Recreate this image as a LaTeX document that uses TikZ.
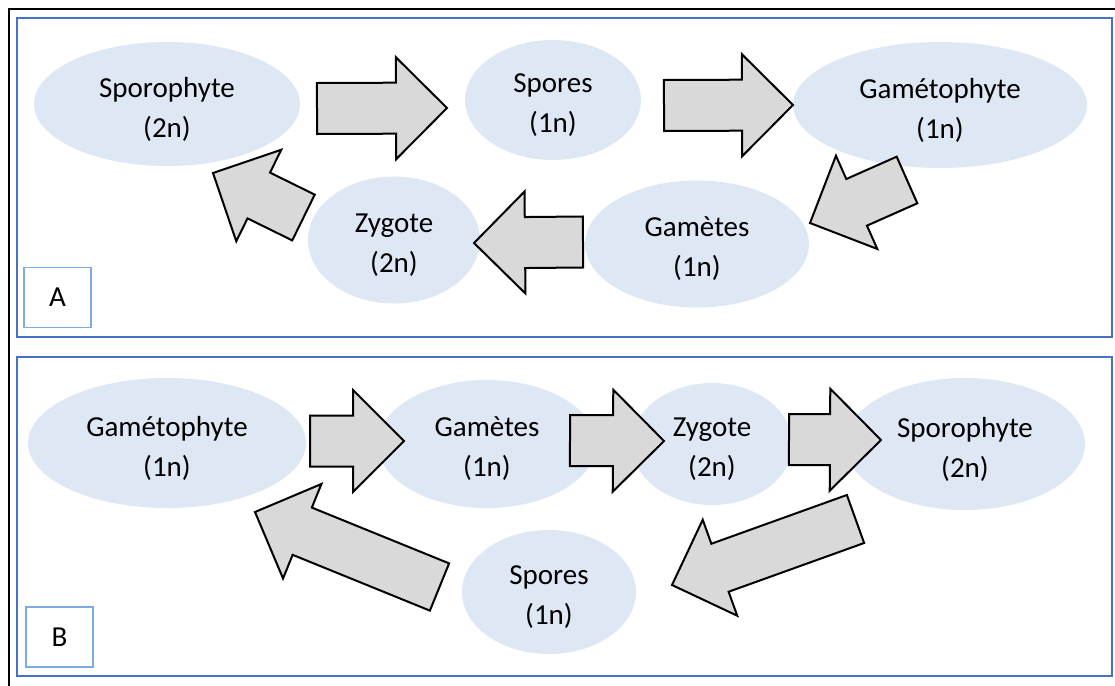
\documentclass[tikz,border=0pt]{standalone}
\usepackage{fontspec}
\setmainfont{Carlito}
\usepackage{tikz}
\usetikzlibrary{shapes.geometric,calc}
\definecolor{cellfill}{RGB}{222,232,245}
\definecolor{panelblue}{RGB}{68,114,196}
\definecolor{tagblue}{RGB}{125,172,226}
\definecolor{arrfill}{RGB}{217,217,217}
\newcommand{\blockarrow}[2]{%
  \coordinate (bj) at ($(#2)!25.5pt!(#1)$);
  \draw[blk] ($(#1)!12.75pt!90:(#2)$) -- ($(bj)!12.75pt!90:(#2)$) -- ($(bj)!25.5pt!90:(#2)$) -- (#2)
    -- ($(bj)!25.5pt!-90:(#2)$) -- ($(bj)!12.75pt!-90:(#2)$) -- ($(#1)!12.75pt!-90:(#2)$) -- cycle;}

\begin{document}
\begin{tikzpicture}[x=0.5pt,y=-0.5pt,
  cell/.style={ellipse,fill=cellfill,inner sep=0pt,label={[celltxt]center:#1}},
  celltxt/.style={align=center,font=\fontsize{14.5}{20}\selectfont,yshift=-2.5pt},
  panel/.style={draw=panelblue,line width=1.3pt},
  tag/.style={draw=tagblue,line width=0.6pt,minimum width=33.5pt,minimum height=30pt,font=\fontsize{14.5}{20}\selectfont},
  blk/.style={fill=arrfill,draw=black,line width=1pt,line join=miter}]
\useasboundingbox (0,0) rectangle (1115,686);
\draw[line width=1.35pt] (9,700) -- (9,9) -- (1130,9);
\draw[panel] (17,18) rectangle (1112,337);
\draw[panel] (17,357) rectangle (1112,676);
\node[tag] (tA) at (57.5,297.5) {A};
\node[tag] (tB) at (59.5,637) {B};
% cycle A
\node[cell={Sporophyte\\(2n)},minimum width=133pt,minimum height=62pt] (spoA) at (167,104) {};
\node[cell={Spores\\(1n)},minimum width=88pt,minimum height=60pt] (sprA) at (553,100) {};
\node[cell={Gamétophyte\\(1n)},minimum width=147pt,minimum height=63pt] (gamA) at (940,105) {};
\node[cell={Gamètes\\(1n)},minimum width=112pt,minimum height=63.5pt] (gmtA) at (697,244) {};
\node[cell={Zygote\\(2n)},minimum width=86pt,minimum height=63.5pt] (zygA) at (394,240) {};
\coordinate (a1s) at (317,108.5); \coordinate (a1e) at (447,108);
\coordinate (a2s) at (664,105.5); \coordinate (a2e) at (793,105);
\coordinate (a3s) at (583,242);   \coordinate (a3e) at (474,243);
\coordinate (a4s) at (907,180);   \coordinate (a4e) at (810,223);
\coordinate (a5s) at (303.5,217.5); \coordinate (a5e) at (213,173);
\blockarrow{a1s}{a1e}
\blockarrow{a2s}{a2e}
\blockarrow{a3s}{a3e}
\blockarrow{a4s}{a4e}
\blockarrow{a5s}{a5e}
% cycle B
\node[cell={Gamétophyte\\(1n)},minimum width=139pt,minimum height=65pt] (gamB) at (167,443) {};
\node[cell={Gamètes\\(1n)},minimum width=109pt,minimum height=64pt] (gmtB) at (487,444) {};
\node[cell={Zygote\\(2n)},minimum width=80.5pt,minimum height=61pt] (zygB) at (712,444) {};
\node[cell={Sporophyte\\(2n)},minimum width=120pt,minimum height=66pt] (spoB) at (965,444) {};
\node[cell={Spores\\(1n)},minimum width=87pt,minimum height=62pt] (sprB) at (549,592) {};
\coordinate (b1s) at (310,441);   \coordinate (b1e) at (404,441);
\coordinate (b2s) at (570,440.5); \coordinate (b2e) at (664,441);
\coordinate (b3s) at (789,439.5); \coordinate (b3e) at (881,440);
\coordinate (b4s) at (855.5,519); \coordinate (b4e) at (672,585);
\coordinate (b5s) at (439.5,587); \coordinate (b5e) at (255,512);
\blockarrow{b1s}{b1e}
\blockarrow{b2s}{b2e}
\blockarrow{b3s}{b3e}
\blockarrow{b4s}{b4e}
\blockarrow{b5s}{b5e}
\end{tikzpicture}
\end{document}
